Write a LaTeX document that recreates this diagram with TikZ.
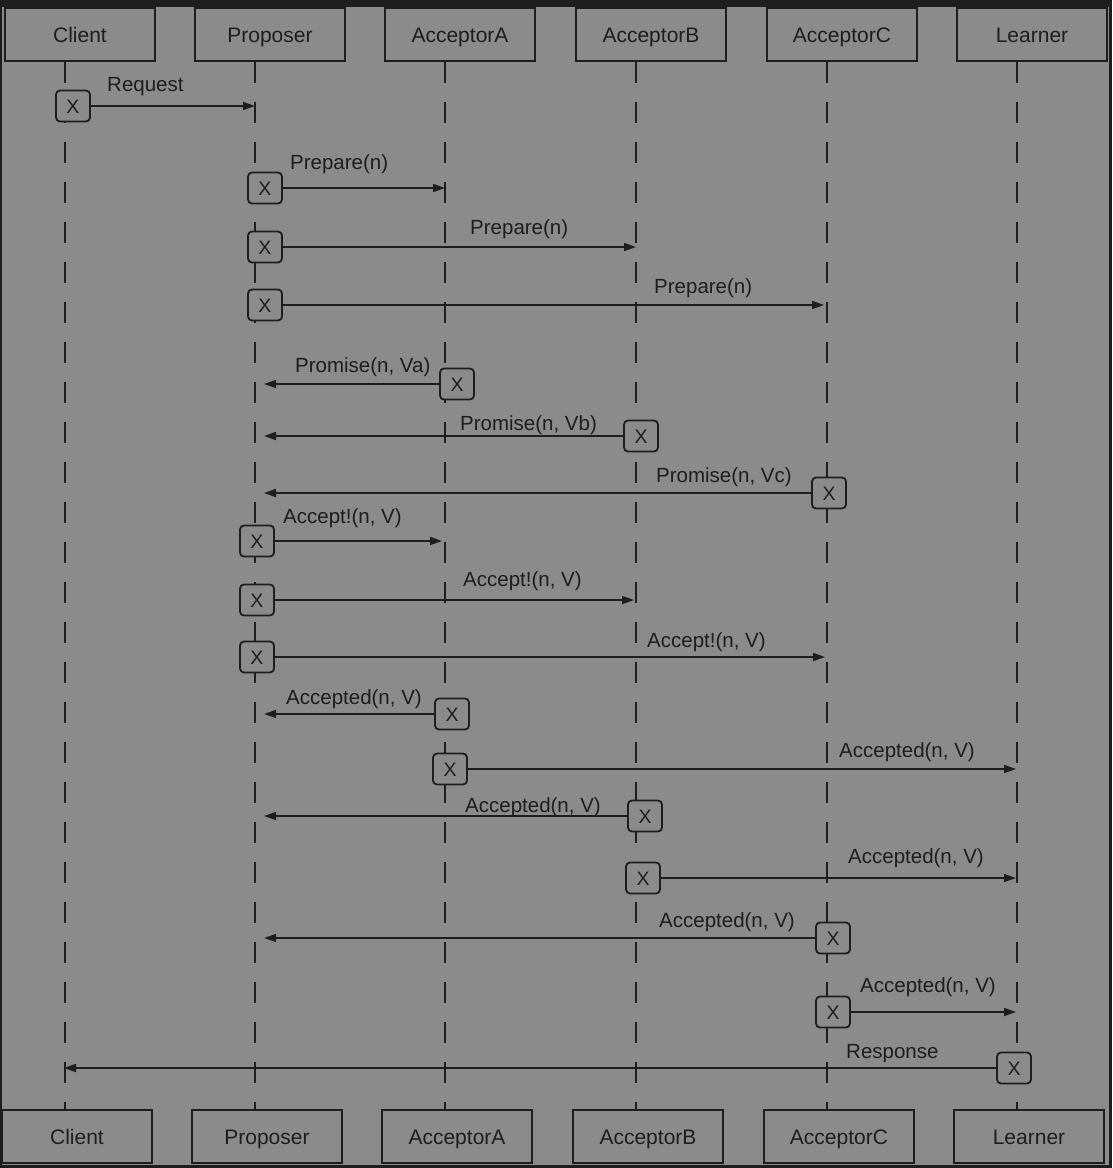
\documentclass[tikz,border=0pt]{standalone}
\usepackage{fontspec}
\setmainfont{Liberation Sans}
\usetikzlibrary{arrows.meta}
\definecolor{bggray}{RGB}{139,139,139}
\definecolor{ink}{RGB}{30,30,30}
\definecolor{framedark}{RGB}{30,30,30}

\tikzset{
  actor/.style={draw=ink, line width=1.8pt, minimum width=150pt,
    minimum height=53pt, inner sep=0pt, text=ink,
    text height=15pt, text depth=0pt,
    font=\fontsize{21}{25}\selectfont},
  lifeline/.style={draw=ink, line width=1.6pt, dash pattern=on 21pt off 19pt},
  xbox/.style={draw=ink, fill=bggray, line width=1.8pt, rounded corners=4pt,
    minimum width=34pt, minimum height=31pt, inner sep=0pt, text=ink,
    text height=14pt, text depth=0pt,
    font=\fontsize{19.5}{22}\selectfont},
  msg/.style={draw=ink, line width=1.7pt, -{Triangle[length=12pt,width=8pt]}},
  lbl/.style={anchor=base west, inner sep=0pt, text=ink,
    font=\fontsize{20.5}{24}\selectfont},
}

\begin{document}
\begin{tikzpicture}[x=1pt,y=-1pt]
  % frame and background
  \fill[framedark] (0,0) rectangle (1112,1168);
  \fill[bggray] (2,7) rectangle (1109,1165);
  \useasboundingbox (0,0) rectangle (1112,1168);

  % participants and lifelines
  \foreach \id/\name/\x in {client/Client/65, prop/Proposer/255,
      accA/AcceptorA/445, accB/AcceptorB/636, accC/AcceptorC/827,
      learn/Learner/1017} {
    \coordinate (\id) at (\x,0);
    \node[actor] (\id-top) at (\x+15,34.5) {\name};
    \node[actor] (\id-bot) at (\x+12,1136.5) {\name};
    \draw[lifeline] (\id-top.south -| \id) -- (\id-bot.north -| \id);
  }

  % request
  \node[xbox] (m1) at (73,106) {X};
  \draw[msg] (m1.east) -- (prop |- m1.east);
  \node[lbl] (l1) at (107,91) {Request};

  % prepare
  \node[xbox] (m2) at (265,188) {X};
  \draw[msg] (m2.east) -- (accA |- m2.east);
  \node[lbl] (l2) at (290,169) {Prepare(n)};
  \node[xbox] (m3) at (265,247) {X};
  \draw[msg] (m3.east) -- (accB |- m3.east);
  \node[lbl] (l3) at (470,234) {Prepare(n)};
  \node[xbox] (m4) at (265,305) {X};
  \draw[msg, shorten >=3pt] (m4.east) -- (accC |- m4.east);
  \node[lbl] (l4) at (654,293) {Prepare(n)};

  % promise
  \node[xbox] (m5) at (457,384) {X};
  \draw[msg, shorten >=9pt] (m5.west) -- (prop |- m5.west);
  \node[lbl] (l5) at (295,372) {Promise(n, Va)};
  \node[xbox] (m6) at (641,436) {X};
  \draw[msg, shorten >=9pt] (m6.west) -- (prop |- m6.west);
  \node[lbl] (l6) at (460,430) {Promise(n, Vb)};
  \node[xbox] (m7) at (829,493) {X};
  \draw[msg, shorten >=9pt] (m7.west) -- (prop |- m7.west);
  \node[lbl] (l7) at (656,482) {Promise(n, Vc)};

  % accept
  \node[xbox] (m8) at (257,541) {X};
  \draw[msg, shorten >=3pt] (m8.east) -- (accA |- m8.east);
  \node[lbl] (l8) at (283,523) {Accept!(n, V)};
  \node[xbox] (m9) at (257,600) {X};
  \draw[msg, shorten >=2pt] (m9.east) -- (accB |- m9.east);
  \node[lbl] (l9) at (463,586) {Accept!(n, V)};
  \node[xbox] (m10) at (257,657) {X};
  \draw[msg, shorten >=2pt] (m10.east) -- (accC |- m10.east);
  \node[lbl] (l10) at (647,647) {Accept!(n, V)};

  % accepted
  \node[xbox] (m11) at (452,714) {X};
  \draw[msg, shorten >=9pt] (m11.west) -- (prop |- m11.west);
  \node[lbl] (l11) at (286,704) {Accepted(n, V)};
  \node[xbox] (m12) at (450,769) {X};
  \draw[msg, shorten >=1pt] (m12.east) -- (learn |- m12.east);
  \node[lbl] (l12) at (839,757) {Accepted(n, V)};
  \node[xbox] (m13) at (645,816) {X};
  \draw[msg, shorten >=9pt] (m13.west) -- (prop |- m13.west);
  \node[lbl] (l13) at (465,812) {Accepted(n, V)};
  \node[xbox] (m14) at (643,878) {X};
  \draw[msg, shorten >=1pt] (m14.east) -- (learn |- m14.east);
  \node[lbl] (l14) at (848,863) {Accepted(n, V)};
  \node[xbox] (m15) at (833,938) {X};
  \draw[msg, shorten >=9pt] (m15.west) -- (prop |- m15.west);
  \node[lbl] (l15) at (659,927) {Accepted(n, V)};
  \node[xbox] (m16) at (833,1012) {X};
  \draw[msg, shorten >=1pt] (m16.east) -- (learn |- m16.east);
  \node[lbl] (l16) at (860,992) {Accepted(n, V)};

  % response
  \node[xbox] (m17) at (1014,1068) {X};
  \draw[msg, shorten >=-1pt] (m17.west) -- (client |- m17.west);
  \node[lbl] (l17) at (846,1058) {Response};
\end{tikzpicture}
\end{document}
